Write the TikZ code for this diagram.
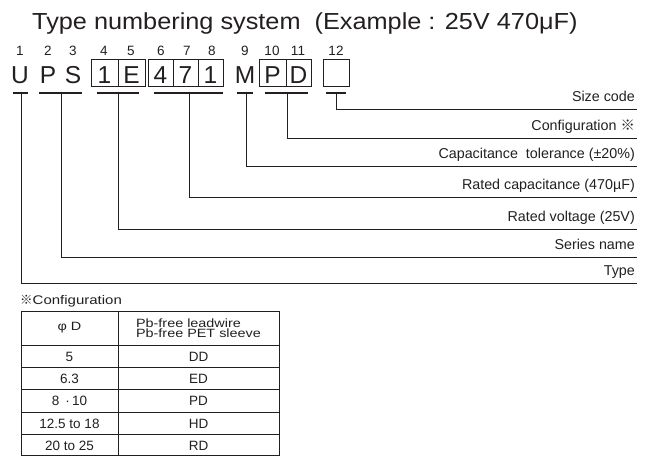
\documentclass[tikz,border=0pt]{standalone}
\usepackage{fontspec}
\setmainfont{Liberation Sans}
\newfontfamily\wf[FakeStretch=1.2]{Liberation Sans}
\newfontfamily\tf[FakeStretch=1.09]{Liberation Sans}
\newfontfamily\cjk{Noto Sans CJK JP}
\definecolor{ink}{HTML}{231F20}
\begin{document}
\begin{tikzpicture}[x=1pt,y=-1pt,
  every node/.style={text=ink,inner sep=0pt},
  num/.style={font=\fontsize{13.5}{13.5}\selectfont,anchor=base},
  code/.style={font=\fontsize{24.5}{24.5}\selectfont,anchor=base},
  cell/.style={draw=ink,line width=0.8pt},
  bar/.style={draw=ink,line width=2.2pt},
  lead/.style={draw=ink,line width=0.9pt},
  lab/.style={font=\fontsize{14.3}{14.3}\selectfont,anchor=base east},
  hdr/.style={font=\wf\fontsize{12}{10.5}\selectfont},
  tab/.style={font=\fontsize{13.5}{13.5}\selectfont,anchor=base},
  grid/.style={draw=ink,line width=0.8pt}]
\useasboundingbox (0,0) rectangle (645,456);

% title
\node[anchor=base west,font=\tf\fontsize{23.2}{23.2}\selectfont] (title) at (32,29) {Type numbering system\ \ (Example : 25V 470μF)};

% position numbers
\foreach \n/\x in {1/20,2/48,3/73,4/104,5/131,6/161,7/187,8/212,9/245,10/272,11/298,12/336}
  \node[num] (n\n) at (\x,55) {\n};

% boxes
\draw[cell] (91,59) rectangle (145,86) (118,59) -- (118,86);
\draw[cell] (148,59) rectangle (223,86) (173,59) -- (173,86) (198,59) -- (198,86);
\draw[cell] (259,59) rectangle (311,86) (286,59) -- (286,86);
\draw[cell] (323,59) rectangle (349,86);

% code letters
\foreach \n/\t/\x in {1/U/20,2/P/48,3/S/73,4/1/104.5,5/E/131.5,6/4/160.5,7/7/185.5,8/1/210.5,9/M/245,10/P/272.5,11/D/298.5}
  \node[code] (c\n) at (\x,83) {\t};

% bars under groups
\coordinate (bU) at (21,93);
\coordinate (bPS) at (61,93);
\coordinate (bV) at (118,93);
\coordinate (bC) at (189,93);
\coordinate (bM) at (246,93);
\coordinate (bPD) at (287,93);
\coordinate (bSZ) at (336,93);
\draw[bar] (13,93) -- (28,93);
\draw[bar] (39,93) -- (82,93);
\draw[bar] (97,93) -- (139,93);
\draw[bar] (154,93) -- (223,93);
\draw[bar] (237,93) -- (253,93);
\draw[bar] (265,93) -- (308,93);
\draw[bar] (326,93) -- (346,93);

% line ends
\coordinate (eSZ) at (637,109);
\coordinate (ePD) at (637,138);
\coordinate (eM) at (637,166);
\coordinate (eC) at (637,197);
\coordinate (eV) at (637,229);
\coordinate (ePS) at (637,257);
\coordinate (eU) at (637,283);

\draw[lead] (bSZ) |- (eSZ);
\draw[lead] (bPD) |- (ePD);
\draw[lead] (bM) |- (eM);
\draw[lead] (bC) |- (eC);
\draw[lead] (bV) |- (eV);
\draw[lead] (bPS) |- (ePS);
\draw[lead] (bU) |- (eU);

% labels
\node[lab] (lSZ) at (635,101.5) {Size code};
\node[lab] (lPD) at (635,130) {Configuration {\cjk ※}};
\node[lab] (lM) at (635,158.5) {Capacitance\ \ tolerance (±20\%)};
\node[lab] (lC) at (635,189.5) {Rated capacitance (470µF)};
\node[lab] (lV) at (635,221) {Rated voltage (25V)};
\node[lab] (lPS) at (635,249) {Series name};
\node[lab] (lU) at (635,275) {Type};

% configuration table
\node[anchor=base west,font=\wf\fontsize{12.5}{12.5}\selectfont] (ctitle) at (20,304.5) {{\cjk ※}Configuration};
\draw[grid] (21,311) rectangle (279,455);
\draw[grid] (118,311) -- (118,455);
\foreach \y in {345,367,389.5,412,434}
  \draw[grid] (21,\y) -- (279,\y);
\node[hdr] (h1) at (69.5,328) {φ D};
\node[hdr,align=left] (h2) at (198.5,328) {Pb-free leadwire\\Pb-free PET sleeve};
\foreach \i/\a/\b/\y in {1/5/DD/361,2/6.3/ED/383,3/8 \,·\,10/PD/405.5,4/12.5 to 18/HD/428,5/20 to 25/RD/450}{
  \node[tab] (a\i) at (69.5,\y) {\a};
  \node[tab] (b\i) at (198.5,\y) {\b};
}
\end{tikzpicture}
\end{document}
